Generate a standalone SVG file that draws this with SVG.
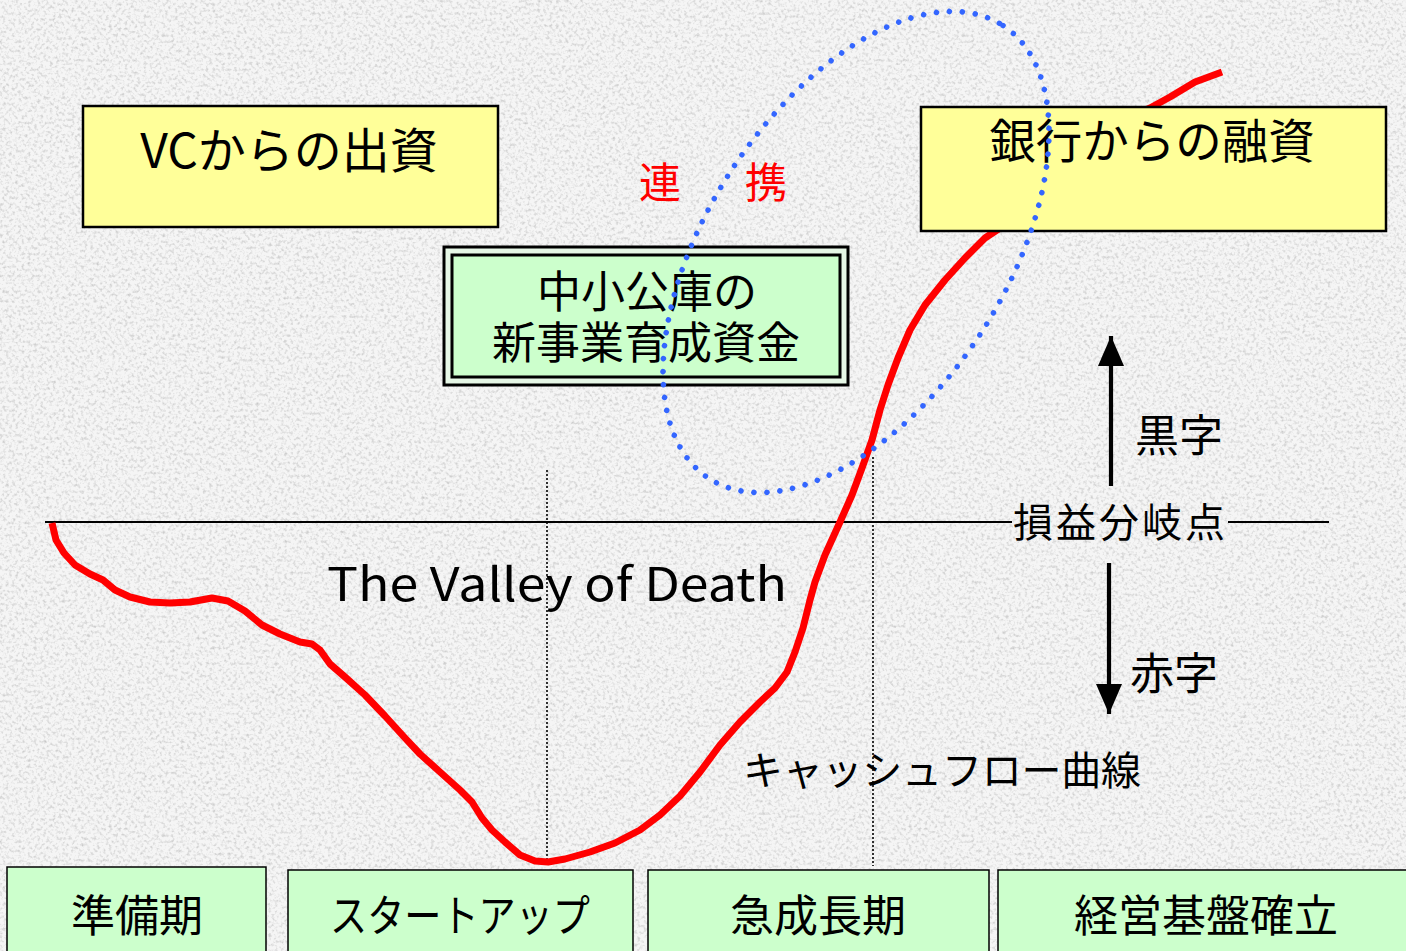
<svg xmlns="http://www.w3.org/2000/svg" width="1406" height="951" viewBox="0 0 1406 951">
<defs>
<filter id="grain" x="0" y="0" width="100%" height="100%">
<feTurbulence type="fractalNoise" baseFrequency="0.32" numOctaves="2" seed="7" result="n"/>
<feColorMatrix in="n" type="matrix" values="0 0 0 0 0.45  0 0 0 0 0.45  0 0 0 0 0.45  -1.5 0 0 0 0.8"/>
</filter>
<marker id="ah" markerUnits="userSpaceOnUse" markerWidth="30" markerHeight="34" viewBox="0 0 30 34" refX="30" refY="15" orient="auto">
<path d="M0,2 L30,15 L0,28 Z" fill="#000"/>
</marker>
<style>
.t{font-family:"Noto Sans CJK JP","Noto Sans",sans-serif;fill:#000}
.yb{fill:#ffff99;stroke:#000;stroke-width:2.5}
.gb{fill:#ccffcc;stroke:#000;stroke-width:1.5}
.dot{stroke:#000;stroke-width:1.6;stroke-dasharray:2 2;fill:none}
.arr{stroke:#000;stroke-width:4.2;fill:none;marker-end:url(#ah)}
</style>
</defs>
<rect width="1406" height="951" fill="#f5f5f5"/>
<rect width="1406" height="951" filter="url(#grain)"/>

<g id="connectors">
<line x1="45" y1="522" x2="1012" y2="522" stroke="#000" stroke-width="2.2"/>
<line x1="1228" y1="522" x2="1329" y2="522" stroke="#000" stroke-width="2.2"/>
<line class="dot" x1="547" y1="470" x2="547" y2="864"/>
<line class="dot" x1="873" y1="457" x2="873" y2="866"/>
<path d="M52,523 L56,540 L64,553 L75,565 L90,574 L103,580 L115,590 L130,597 L150,602 L170,603 L190,602 L212,598 L228,601 L245,611 L262,625 L280,634 L300,642 L312,644 L320,650 L330,664 L345,677 L365,695 L385,716 L405,738 L420,754 L440,772 L460,790 L472,802 L482,818 L492,830 L505,842 L520,855 L535,861 L548,862 L565,859 L590,852 L615,843 L640,830 L660,815 L680,796 L700,772 L720,745 L740,722 L760,702 L775,688 L787,672 L795,652 L803,628 L810,600 L815,582 L825,555 L840,522 L852,495 L862,468 L872,440 L880,410 L888,385 L898,358 L910,330 L925,305 L945,280 L965,258 L985,238 L1000,228 L1060,165 L1110,125 L1150,108 L1170,97 L1195,82 L1222,72" fill="none" stroke="#ff0000" stroke-width="7" stroke-linejoin="round" stroke-linecap="butt"/>
<line class="arr" x1="1111" y1="486" x2="1111" y2="336"/>
<line class="arr" x1="1109" y1="563" x2="1109" y2="714"/>
</g>

<g id="vc">
<rect class="yb" x="83" y="106" width="415" height="121"/>
<text class="t" x="289" y="168" font-size="48" text-anchor="middle">VCからの出資</text>
</g>
<g id="bank">
<rect class="yb" x="921" y="107" width="465" height="124" stroke-width="2"/>
<text class="t" x="1152" y="158" font-size="46.5" text-anchor="middle">銀行からの融資</text>
</g>
<g id="koko">
<rect x="444" y="247" width="404" height="138" fill="#e6f7e6" stroke="#000" stroke-width="3"/>
<rect x="452" y="255" width="388" height="122" fill="#ccffcc" stroke="#000" stroke-width="3"/>
<text class="t" x="647" y="308" font-size="44" text-anchor="middle">中小公庫の</text>
<text class="t" x="646" y="359" font-size="44" text-anchor="middle">新事業育成資金</text>
</g>
<g id="renkei">
<ellipse cx="856" cy="252" rx="270" ry="149" transform="rotate(-57 856 252)" fill="none" stroke="#3366ff" stroke-width="5.5" stroke-linecap="round" stroke-dasharray="0 13"/>
<text x="639" y="198" font-size="42" fill="#ff0000" font-family="Noto Sans CJK JP,sans-serif">連</text>
<text x="745" y="198" font-size="42" fill="#ff0000" font-family="Noto Sans CJK JP,sans-serif">携</text>
</g>
<g id="labels">
<text class="t" x="1013" y="537" font-size="40" textLength="212">損益分岐点</text>
<text class="t" x="1135" y="452" font-size="44">黒字</text>
<text class="t" x="1130" y="690" font-size="44">赤字</text>
<text class="t" x="327" y="601" font-size="46" textLength="460" lengthAdjust="spacingAndGlyphs">The Valley of Death</text>
<text class="t" x="743" y="785" font-size="40" textLength="398">キャッシュフロー曲線</text>
</g>
<g id="phase1">
<rect class="gb" x="7" y="867" width="259" height="100"/>
<text class="t" x="137" y="932" font-size="44" text-anchor="middle">準備期</text>
</g>
<g id="phase2">
<rect class="gb" x="288" y="870" width="345" height="100"/>
<text class="t" x="330" y="932" font-size="44" textLength="260" lengthAdjust="spacingAndGlyphs">スタートアップ</text>
</g>
<g id="phase3">
<rect class="gb" x="648" y="870" width="341" height="100"/>
<text class="t" x="818" y="932" font-size="44" text-anchor="middle">急成長期</text>
</g>
<g id="phase4">
<rect class="gb" x="998" y="870" width="420" height="100"/>
<text class="t" x="1206" y="932" font-size="44" text-anchor="middle">経営基盤確立</text>
</g>
</svg>
